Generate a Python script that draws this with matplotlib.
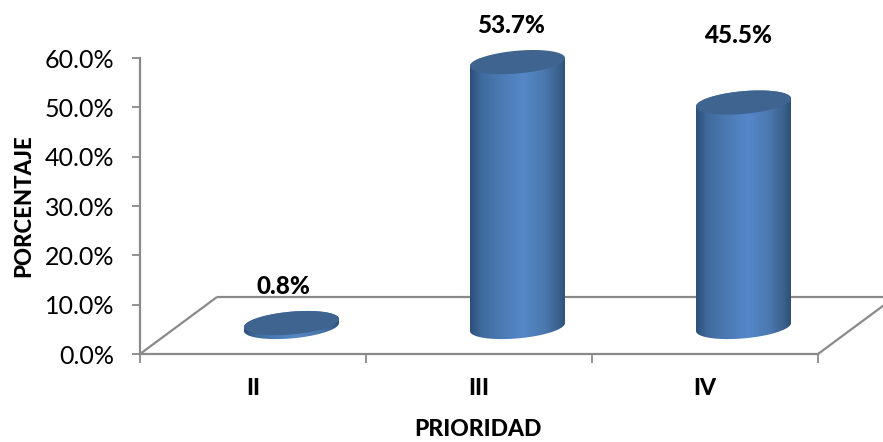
import numpy as np
import matplotlib
matplotlib.use("Agg")
import matplotlib.pyplot as plt
from matplotlib.colors import LinearSegmentedColormap
from matplotlib.patches import Polygon
from matplotlib.ticker import FixedLocator, NullFormatter, FixedFormatter

categories = ["II", "III", "IV"]
values = [0.8, 53.7, 45.5]
value_labels = ["0.8%", "53.7%", "45.5%"]
y_ticks = [0, 10, 20, 30, 40, 50, 60]
y_tick_labels = ["0.0%", "10.0%", "20.0%", "30.0%", "40.0%", "50.0%", "60.0%"]
label_offsets_pt = [(-6, 26), (-5, 26), (-4, 48)]

W, H, DPI = 883, 442, 100
LEFT, RIGHT, TOP, BOTTOM = 140, 818, 58, 354
AXIS_GREY = "#8a8a8a"
CAP_BLUE = "#3e648f"
HEAVY = 900

plt.rcParams["font.family"] = ["Lato", "DejaVu Sans"]

fig = plt.figure(figsize=(W / DPI, H / DPI), dpi=DPI, facecolor="white")
ax = fig.add_axes([LEFT / W, 1 - BOTTOM / H, (RIGHT - LEFT) / W, (BOTTOM - TOP) / H])
ax.set_xlim(0, len(categories))
ax.set_ylim(0, 60)
ax.patch.set_alpha(0)

px_x = (RIGHT - LEFT) / len(categories)   # pixels per category
px_y = (BOTTOM - TOP) / 60                # pixels per percentage point

# perspective floor of the 3-D plot
depth_x = 77 / px_x
depth_y = 57 / px_y
n = len(categories)
floor_style = dict(color=AXIS_GREY, lw=1.6, clip_on=False, zorder=1, solid_capstyle="butt")
ax.plot([0, depth_x], [0, depth_y], **floor_style)
ax.plot([n, n + depth_x], [0, depth_y], **floor_style)
ax.plot([depth_x, n + depth_x], [depth_y, depth_y], **floor_style)

# cylinders: shaded body clipped to the outline, flat cap on top
shade = LinearSegmentedColormap.from_list(
    "cylinder",
    [(0.0, "#2d4f78"), (0.12, "#3f6a9c"), (0.35, "#4d7cb6"), (0.55, "#5587c9"),
     (0.78, "#4b78ae"), (0.92, "#3b6290"), (1.0, "#2f5073")],
)
half_w = 47.5 / px_x
semi_b = 11.4 / px_y
shear = 4.0 / px_y
base_level = 27 / px_y
t = np.linspace(0, 2 * np.pi, 181)

for i, (value, text, offset) in enumerate(zip(values, value_labels, label_offsets_pt)):
    cx = i + 0.5 + depth_x / 2
    top = base_level + value
    # the right end of each ellipse sits higher than the left end
    base_curve = np.column_stack([cx + half_w * np.cos(t[:91]),
                                  base_level + shear * np.cos(t[:91]) - semi_b * np.sin(t[:91])])
    top_curve = np.column_stack([cx + half_w * np.cos(t),
                                 top + shear * np.cos(t) + semi_b * np.sin(t)])
    outline = np.vstack([base_curve, top_curve[::-1][90:]])
    body = Polygon(outline, closed=True, transform=ax.transData, facecolor="none", edgecolor="none")
    ax.add_patch(body)
    img = ax.imshow(np.linspace(0, 1, 256)[None, :], cmap=shade, aspect="auto",
                    extent=[cx - half_w, cx + half_w, base_level - semi_b - shear, top + semi_b + shear],
                    zorder=3, interpolation="bilinear")
    img.set_clip_path(body)
    ax.add_patch(Polygon(top_curve, closed=True, facecolor=CAP_BLUE, edgecolor="none",
                         zorder=4, clip_on=False))
    ax.annotate(text, xy=(cx, top), xytext=offset, textcoords="offset points",
                ha="center", va="center", fontsize=17.5, fontweight=HEAVY,
                color="black", annotation_clip=False, zorder=6)

ax.set_xlim(0, n)
ax.set_ylim(0, 60)

# axes, ticks and labels
for side in ("top", "right"):
    ax.spines[side].set_visible(False)
for side in ("left", "bottom"):
    ax.spines[side].set_color(AXIS_GREY)
    ax.spines[side].set_linewidth(1.6)

ax.set_yticks(y_ticks)
ax.set_yticklabels(y_tick_labels, fontsize=18, color="black")
ax.tick_params(axis="y", length=6, width=1.3, color=AXIS_GREY, pad=12.5)

ax.xaxis.set_major_locator(FixedLocator(np.arange(n + 1)))
ax.xaxis.set_major_formatter(NullFormatter())
ax.xaxis.set_minor_locator(FixedLocator(np.arange(n) + 0.5))
ax.xaxis.set_minor_formatter(FixedFormatter(categories))
ax.tick_params(axis="x", which="major", length=6.5, width=1.3, color=AXIS_GREY)
ax.tick_params(axis="x", which="minor", length=0, pad=17, labelsize=16.5)
for label in ax.get_xminorticklabels():
    label.set_fontweight(HEAVY)

fig.text(478 / W, 1 - 429 / H, "PRIORIDAD", ha="center", va="center",
         fontsize=16.5, fontweight=HEAVY)
fig.text(24 / W, 1 - 206 / H, "PORCENTAJE", ha="center", va="center", rotation=90,
         fontsize=16, fontweight=HEAVY)

fig.savefig("out.png", dpi=DPI, facecolor="white")
